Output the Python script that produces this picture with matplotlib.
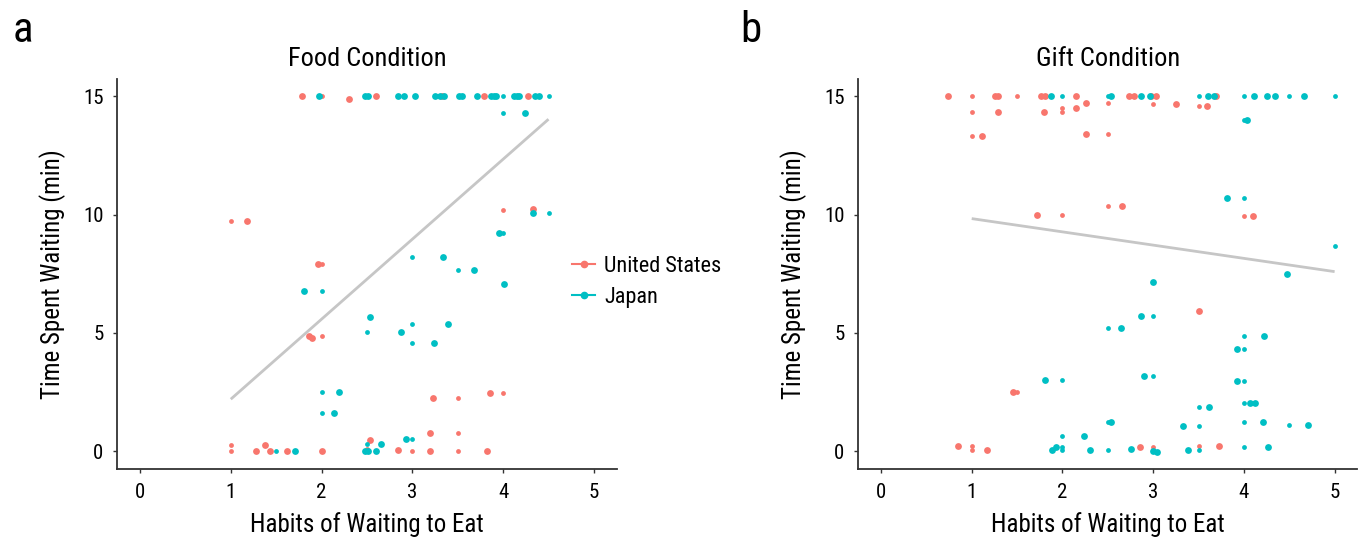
# recreate the food / gift waiting-time scatter panels
import matplotlib
matplotlib.use("Agg")
import matplotlib.pyplot as plt
from matplotlib import font_manager
from matplotlib.lines import Line2D

# pick a narrow sans if there is one
names = set(f.name for f in font_manager.fontManager.ttflist)
prefer = ["Liberation Sans Narrow", "Noto Sans Condensed", "Roboto Condensed",
          "Open Sans Condensed", "DejaVu Sans Condensed", "Noto Sans SemiCondensed"]
fam = None
for p in prefer:
    if p in names:
        fam = p
        break
if fam is None:
    narrow = sorted(n for n in names if ("Narrow" in n or "Condensed" in n)
                    and "Mono" not in n and "Serif" not in n)
    fam = narrow[0] if narrow else None
if fam is None:
    fam = "Liberation Sans"
    cond = [f for f in font_manager.fontManager.ttflist
            if f.name in ("Noto Sans", "DejaVu Sans", "Roboto", "Open Sans")
            and str(f.stretch) in ("condensed", "semi-condensed", "75", "87")]
    if cond:
        fam = cond[0].name
        plt.rcParams["font.stretch"] = cond[0].stretch
plt.rcParams["font.family"] = [fam, "DejaVu Sans"]

RED = "#F8766D"
TEAL = "#00BFC4"
LINE = "#C6C6C6"

# ---- Food condition ----
food_us_small_x = [2.0, 4.0, 1.0, 2.0, 2.0, 3.5, 4.0, 3.5, 1.0, 1.0, 2.5, 3.0, 3.5]
food_us_small_y = [15, 10.2, 9.73, 7.93, 4.86, 2.25, 2.48, 0.77, 0.25, 0, 0.1, 0, 0]
food_us_large_x = [1.78, 2.30, 2.60, 3.33, 3.79, 4.27, 4.33, 1.18, 1.96, 1.86, 1.90,
                   3.23, 3.85, 3.19, 2.53, 1.38, 1.28, 1.43, 1.62, 2.01, 2.84, 3.20, 3.82]
food_us_large_y = [15, 14.9, 15, 15, 15, 15, 10.25, 9.73, 7.93, 4.86, 4.8,
                   2.25, 2.48, 0.77, 0.47, 0.25, 0, 0, 0, 0, 0.05, 0, 0]
food_jp_small_x = [4.0, 4.5, 4.0, 4.5, 2.0, 3.0, 3.5, 4.0, 2.5, 3.0, 3.0, 2.0, 2.0, 3.0, 2.5, 1.5]
food_jp_small_y = [15, 15, 14.29, 10.08, 6.77, 8.21, 7.66, 9.24, 5.04, 5.37, 4.56, 2.52, 1.62, 0.51, 0.32, 0]
food_jp_large_x = [1.97, 2.48, 2.51, 2.84, 2.91, 3.03, 3.25, 3.30, 3.35, 3.51, 3.55, 3.71,
                   3.87, 3.90, 3.92, 4.12, 4.15, 4.18, 4.35, 4.40,
                   4.24, 4.33, 1.81, 3.34, 3.68, 3.95, 4.01, 2.53, 2.87, 3.39, 3.24,
                   2.19, 2.14, 2.93, 2.66, 1.71, 2.48, 2.51, 2.60]
food_jp_large_y = [15] * 20 + [14.29, 10.08, 6.77, 8.21, 7.66, 9.24, 7.06, 5.67, 5.04, 5.37, 4.56,
                               2.52, 1.62, 0.51, 0.32, 0, 0, 0, 0]
food_fit_x = [1, 4.5]
food_fit_y = [2.2, 14.03]

# ---- Gift condition ----
gift_us_small_x = [1.0, 1.5, 2.5, 3.0, 3.5, 2.0, 2.0, 1.0, 1.0, 2.5, 2.5, 2.0, 4.0, 1.5, 1.0, 1.0, 3.0, 3.5]
gift_us_small_y = [15, 15, 14.72, 14.66, 14.58, 14.5, 14.35, 14.33, 13.32, 13.42, 10.38, 9.98, 9.93,
                   2.49, 0.24, 0.07, 0.18, 0.22]
gift_us_large_x = [0.74, 1.26, 1.29, 1.76, 1.81, 2.15, 2.73, 2.79, 2.98, 3.03, 3.69,
                   2.26, 3.25, 3.59, 2.15, 1.29, 1.80, 1.11, 2.26, 2.66, 1.72, 4.10,
                   3.51, 1.46, 0.85, 1.17, 2.85, 3.73]
gift_us_large_y = [15] * 11 + [14.72, 14.66, 14.58, 14.5, 14.33, 14.35, 13.32, 13.42, 10.38, 9.98, 9.93,
                               5.91, 2.49, 0.24, 0.07, 0.18, 0.22]
gift_jp_small_x = [2.0, 2.5, 3.5, 4.0, 4.5, 5.0, 4.0, 4.0, 5.0, 3.0, 2.5, 4.0, 4.0, 3.0, 4.0, 2.0,
                   4.0, 3.5, 2.5, 3.5, 4.0, 4.5, 2.0, 2.0, 2.0, 2.5, 3.5, 4.0]
gift_jp_small_y = [15, 15, 15, 15, 15, 15, 14.0, 10.70, 8.66, 5.70, 5.22, 4.89, 4.31, 3.17, 2.97, 3.03,
                   2.04, 1.87, 1.24, 1.07, 1.24, 1.13, 0.65, 0.2, 0.07, 0.07, 0.04, 0.18]
gift_jp_large_x = [1.87, 2.54, 2.87, 2.96, 3.60, 3.67, 4.11, 4.26, 4.34, 4.66,
                   4.03, 3.81, 4.48, 3.00, 2.87, 2.64, 4.22, 3.92, 2.90, 3.92, 1.81,
                   4.07, 4.12, 3.61, 2.53, 3.33, 4.21, 4.71, 2.24, 1.88, 1.93, 2.30,
                   2.76, 3.00, 3.04, 3.38, 4.27]
gift_jp_large_y = [15] * 10 + [14.0, 10.70, 7.48, 7.15, 5.70, 5.22, 4.89, 4.31, 3.17, 2.97, 3.03,
                               2.04, 2.04, 1.87, 1.24, 1.07, 1.24, 1.13, 0.65, 0.07, 0.2, 0.07,
                               0.1, 0.0, -0.02, 0.05, 0.18]
gift_fit_x = [1, 5]
gift_fit_y = [9.83, 7.59]

countries = ["United States", "Japan"]
xticks = [0, 1, 2, 3, 4, 5]
yticks = [0, 5, 10, 15]

W, H = 1361, 538
fig = plt.figure(figsize=(W / 100, H / 100), dpi=100)
ax1 = fig.add_axes([117.3 / W, 69 / H, 499.3 / W, 390.5 / H])
ax2 = fig.add_axes([858.3 / W, 69 / H, 499.0 / W, 390.5 / H])


def panel(ax, title, fx, fy, us_s, us_l, jp_s, jp_l):
    ax.plot(fx, fy, color=LINE, lw=2.0, zorder=1, solid_capstyle="butt")
    ax.scatter(us_s[0], us_s[1], s=12, color=RED, lw=0, zorder=2)
    ax.scatter(us_l[0], us_l[1], s=24, color=RED, lw=0, zorder=2)
    ax.scatter(jp_s[0], jp_s[1], s=12, color=TEAL, lw=0, zorder=3)
    ax.scatter(jp_l[0], jp_l[1], s=24, color=TEAL, lw=0, zorder=3)
    ax.set_xlim(-0.25, 5.25)
    ax.set_ylim(-0.75, 15.75)
    ax.set_xticks(xticks)
    ax.set_yticks(yticks)
    for s in ["top", "right"]:
        ax.spines[s].set_visible(False)
    for s in ["left", "bottom"]:
        ax.spines[s].set_color("#333333")
        ax.spines[s].set_linewidth(1.3)
    ax.tick_params(length=3, width=1, color="#333333", labelsize=15, pad=7)
    ax.set_xlabel("Habits of Waiting to Eat", fontsize=18, labelpad=7)
    ax.set_ylabel("Time Spent Waiting (min)", fontsize=18, labelpad=12)
    ax.set_title(title, fontsize=19, pad=9)


panel(ax1, "Food Condition", food_fit_x, food_fit_y,
      (food_us_small_x, food_us_small_y), (food_us_large_x, food_us_large_y),
      (food_jp_small_x, food_jp_small_y), (food_jp_large_x, food_jp_large_y))
panel(ax2, "Gift Condition", gift_fit_x, gift_fit_y,
      (gift_us_small_x, gift_us_small_y), (gift_us_large_x, gift_us_large_y),
      (gift_jp_small_x, gift_jp_small_y), (gift_jp_large_x, gift_jp_large_y))

fig.text(13 / W, 1 - 42 / H, "a", fontsize=31, va="baseline", ha="left")
fig.text(740 / W, 1 - 42 / H, "b", fontsize=31, va="baseline", ha="left")

handles = [Line2D([], [], color=c, lw=1.5, marker="o", markersize=4.5)
           for c in [RED, TEAL]]
fig.legend(handles, countries, loc="center left", bbox_to_anchor=(572 / W, 1 - 281.5 / H),
           frameon=False, fontsize=16, handlelength=1.05, handletextpad=0.4,
           labelspacing=0.45, borderpad=0, borderaxespad=0)

fig.savefig("out.png", dpi=100)
